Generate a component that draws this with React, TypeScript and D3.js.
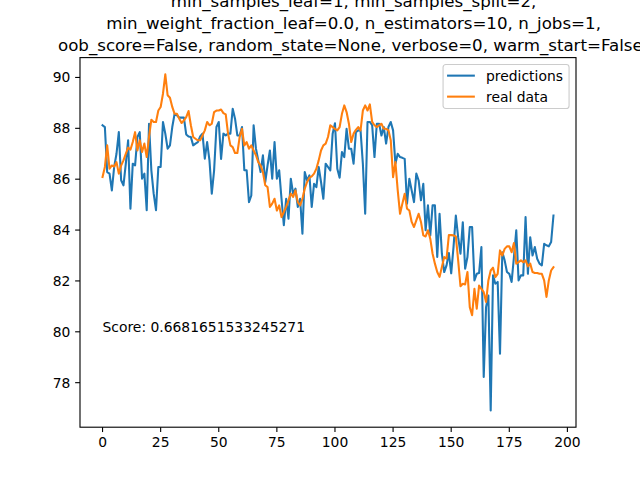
import * as d3 from "d3";

const WIDTH = 640;
const HEIGHT = 480;
const MARGIN = { top: 57.6, right: 64, bottom: 52.8, left: 80 };
const FONT = "DejaVu Sans, sans-serif";

// values
const predictions = [
  88.12, 88.05, 86.28, 86.22, 85.56, 86.48, 87.0, 87.85, 85.96, 85.76,
  86.6, 87.53, 84.84, 86.61, 86.54, 87.66, 87.85, 86.02, 86.22, 84.78,
  88.18, 86.35, 85.43, 84.78, 86.48, 86.48, 88.25, 87.79, 87.2, 87.33,
  88.05, 88.57, 88.51, 88.42, 88.42, 88.42, 87.76, 87.68, 87.66, 87.33,
  87.4, 87.46, 87.68, 87.79, 86.81, 87.46, 86.74, 85.43, 86.35, 88.05,
  88.25, 86.8, 87.79, 87.72, 87.79, 87.79, 88.77, 88.38, 87.72, 87.72,
  88.05, 86.35, 86.35, 85.1, 85.36, 88.12, 87.2, 86.74, 86.28, 86.94,
  85.89, 86.54, 87.13, 86.02, 87.46, 86.02, 86.35, 85.23, 84.19, 85.23,
  84.45, 86.02, 85.43, 85.63, 84.91, 85.23, 83.86, 86.28, 85.95, 86.15,
  84.91, 85.82, 85.69, 86.48, 85.89, 85.23, 86.61, 86.48, 86.35, 87.79,
  88.2, 86.41, 86.06, 87.07, 86.87, 87.98, 87.2, 87.2, 86.61, 87.85,
  87.92, 87.92, 86.61, 84.64, 88.25, 88.25, 88.12, 86.87, 88.18, 88.18,
  87.72, 88.05, 87.4, 88.05, 88.25, 87.92, 86.61, 87.0, 86.87, 86.84,
  86.8, 85.04, 86.02, 85.56, 85.1, 86.22, 85.95, 85.17, 85.82, 83.99,
  84.97, 83.79, 84.97, 84.97, 82.94, 84.64, 83.07, 82.35, 82.61, 83.1,
  82.3, 83.33, 84.57, 83.72, 83.07, 84.31, 82.48, 82.94, 84.12, 84.12,
  82.02, 82.28, 82.31, 83.33, 78.22, 80.97, 81.43, 76.91, 82.22, 81.89,
  81.96, 79.14, 83.13, 82.81, 82.35, 82.28, 81.96, 82.94, 83.99, 82.02,
  82.22, 82.22, 84.51, 82.28, 83.72, 83.0, 83.33, 82.87, 82.68, 82.61,
  83.46, 83.4, 83.36, 83.53, 84.57,
];

const realData = [
  86.09, 86.48, 87.33, 86.41, 86.54, 86.5, 86.67, 86.22, 86.54, 86.74,
  87.0, 87.24, 87.16, 87.46, 87.85, 87.13, 87.53, 87.07, 87.4, 86.87,
  87.66, 88.34, 88.25, 88.25, 88.7, 88.84, 89.36, 90.12, 89.3, 89.2,
  88.84, 88.57, 88.57, 88.38, 88.21, 88.31, 88.44, 88.68, 88.12, 87.66,
  87.59, 87.53, 87.53, 87.72, 87.92, 88.25, 88.12, 88.18, 88.64, 88.7,
  88.7, 88.74, 88.6, 88.55, 87.79, 87.33, 87.26, 87.03, 87.03, 87.66,
  87.98, 87.33, 87.46, 87.2, 87.33, 87.13, 86.94, 86.67, 86.54, 86.28,
  85.76, 85.69, 84.91, 85.04, 85.23, 84.77, 84.97, 84.51, 84.71, 84.91,
  85.17, 85.43, 85.3, 85.56, 85.1, 84.97, 85.23, 85.63, 85.89, 86.06,
  86.11, 86.22, 86.41, 86.74, 87.13, 87.33, 87.4, 87.66, 88.12, 88.05,
  87.98, 87.92, 88.05, 88.57, 88.9, 88.64, 88.18, 87.46, 87.79, 87.94,
  88.05, 87.92, 88.7, 88.9, 88.7, 88.94, 88.25, 88.12, 88.05, 88.12,
  88.18, 87.98, 87.98, 87.92, 87.53, 86.08, 86.67, 85.56, 84.64, 85.04,
  85.43, 84.84, 84.77, 84.32, 84.12, 84.38, 84.64, 84.32, 83.79, 83.75,
  83.99, 83.66, 83.07, 82.68, 82.35, 82.16, 82.55, 82.94, 82.88, 83.8,
  83.8, 83.79, 83.75, 82.81, 81.79, 81.89, 81.86, 82.35, 80.97, 80.65,
  81.69, 80.91, 81.82, 81.69, 81.56, 81.17, 82.02, 82.41, 82.52, 82.15,
  82.28, 83.2, 83.0, 83.26, 83.36, 83.36, 83.13, 83.49, 82.68, 82.74,
  82.81, 82.74, 82.81, 82.57, 82.68, 82.35, 82.31, 82.31, 82.28, 82.28,
  82.02, 81.37, 82.02, 82.41, 82.54,
];

const xTicks = [0, 25, 50, 75, 100, 125, 150, 175, 200];
const yTicks = [78, 80, 82, 84, 86, 88, 90];

// last lines of the estimator repr used as title (the upper lines fall off the page)
const titleLines = [
  "           min_samples_leaf=1, min_samples_split=2,",
  "           min_weight_fraction_leaf=0.0, n_estimators=10, n_jobs=1,",
  "           oob_score=False, random_state=None, verbose=0, warm_start=False)",
];

const scoreLabel = "Score: 0.6681651533245271";
const scorePos = { x: 0, y: 80 };

const series = [
  { name: "predictions", values: predictions, color: "#1f77b4" },
  { name: "real data", values: realData, color: "#ff7f0e" },
];

const App = () => {
  const boundsWidth = WIDTH - MARGIN.left - MARGIN.right;
  const boundsHeight = HEIGHT - MARGIN.top - MARGIN.bottom;

  // matplotlib style 5% padding
  const last = predictions.length - 1;
  const allValues = [...predictions, ...realData];
  const yMin = d3.min(allValues) as number;
  const yMax = d3.max(allValues) as number;
  const yPad = (yMax - yMin) * 0.05;

  const xScale = d3
    .scaleLinear()
    .domain([-last * 0.05, last * 1.05])
    .range([0, boundsWidth]);
  const yScale = d3
    .scaleLinear()
    .domain([yMin - yPad, yMax + yPad])
    .range([boundsHeight, 0]);

  const line = d3
    .line<number>()
    .x((d, i) => xScale(i))
    .y((d) => yScale(d));

  const tickLen = 4.86;
  const fontSize = 13.89;

  // legend
  const legendRight = boundsWidth - 6.94;
  const legendW = 126;
  const legendX = legendRight - legendW;
  const legendY = 6.94;

  return (
    <div style={{ position: "fixed", left: 0, top: 0 }}>
      <svg width={WIDTH} height={HEIGHT} style={{ display: "block", background: "white" }}>
        <g fontFamily={FONT} fontSize={16.67} textAnchor="middle" fill="black">
          {titleLines.map((t, i) => (
            <text
              key={i}
              x={MARGIN.left + boundsWidth / 2 - 3.5}
              y={50.5 - (titleLines.length - 1 - i) * 22}
              style={{ whiteSpace: "pre" }}
            >
              {t}
            </text>
          ))}
        </g>
        <g transform={`translate(${MARGIN.left},${MARGIN.top})`}>
          <defs>
            <clipPath id="plot-clip">
              <rect width={boundsWidth} height={boundsHeight} />
            </clipPath>
          </defs>
          <g clipPath="url(#plot-clip)">
            {series.map((s) => (
              <path
                key={s.name}
                d={line(s.values) || ""}
                fill="none"
                stroke={s.color}
                strokeWidth={2.08}
                strokeLinejoin="round"
                strokeLinecap="square"
              />
            ))}
          </g>

          <text
            x={xScale(scorePos.x)}
            y={yScale(scorePos.y)}
            fontFamily={FONT}
            fontSize={fontSize}
          >
            {scoreLabel}
          </text>

          {/* frame */}
          <rect
            width={boundsWidth}
            height={boundsHeight}
            fill="none"
            stroke="black"
            strokeWidth={1.11}
          />

          {/* x axis */}
          {xTicks.map((t) => (
            <g key={t} transform={`translate(${xScale(t)},${boundsHeight})`}>
              <line y2={tickLen} stroke="black" strokeWidth={1.11} />
              <text
                y={tickLen + 4.86 + 10.2}
                textAnchor="middle"
                fontFamily={FONT}
                fontSize={fontSize}
              >
                {t}
              </text>
            </g>
          ))}

          {/* y axis */}
          {yTicks.map((t) => (
            <g key={t} transform={`translate(0,${yScale(t)})`}>
              <line x2={-tickLen} stroke="black" strokeWidth={1.11} />
              <text
                x={-tickLen - 4.86}
                y={5}
                textAnchor="end"
                fontFamily={FONT}
                fontSize={fontSize}
              >
                {t}
              </text>
            </g>
          ))}

          {/* legend */}
          <g transform={`translate(${legendX},${legendY})`}>
            <rect
              width={legendW}
              height={44}
              rx={2.8}
              fill="white"
              fillOpacity={0.8}
              stroke="#cccccc"
              strokeWidth={1.11}
            />
            {series.map((s, i) => (
              <g key={s.name} transform={`translate(0,${11.1 + i * 21})`}>
                <line x1={4} x2={31.8} stroke={s.color} strokeWidth={2.08} />
                <text x={43} y={5} fontFamily={FONT} fontSize={fontSize}>
                  {s.name}
                </text>
              </g>
            ))}
          </g>
        </g>
      </svg>
    </div>
  );
};

export default App;
